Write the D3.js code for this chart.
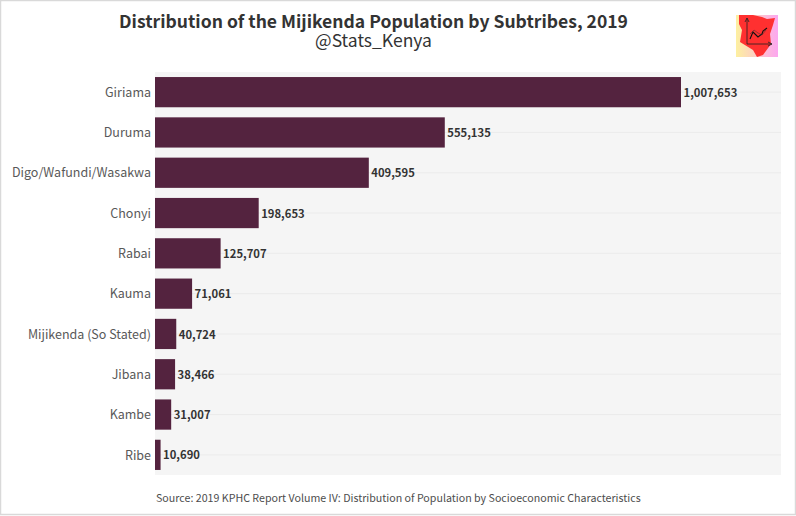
<!DOCTYPE html>
<html>
<head>
<meta charset="utf-8">
<script src="https://cdn.jsdelivr.net/npm/d3@7"></script>
<style>
  html, body { margin: 0; padding: 0; background: #fff; }
  svg { display: block; }
  text { font-family: "Noto Sans CJK SC", "Noto Sans", sans-serif; }
</style>
</head>
<body>
<svg id="chart" width="796" height="516"></svg>
<script>
const subtribes = ['Giriama', 'Duruma', 'Digo/Wafundi/Wasakwa', 'Chonyi', 'Rabai', 'Kauma',
  'Mijikenda (So Stated)', 'Jibana', 'Kambe', 'Ribe'];
const population = [1007653, 555135, 409595, 198653, 125707, 71061, 40724, 38466, 31007, 10690];

const svg = d3.select('#chart');
const w = 796;
const h = 516;
const panel = { left: 155, right: 781, top: 72, bottom: 475 };

// outer border of the picture
svg.append('rect')
  .attr('x', 0.5).attr('y', 0.5)
  .attr('width', w - 1).attr('height', h - 2)
  .attr('fill', '#fff')
  .attr('stroke', '#d9d9d9')
  .attr('stroke-width', 1.5);

svg.append('rect')
  .attr('x', panel.left).attr('y', panel.top)
  .attr('width', panel.right - panel.left).attr('height', panel.bottom - panel.top)
  .attr('fill', '#f5f5f5');

const x = d3.scaleLinear()
  .domain([0, 1007653])
  .range([panel.left, 681]);

const y = d3.scaleBand()
  .domain(subtribes)
  .range([panel.top, panel.bottom])
  .paddingInner(0.25)
  .paddingOuter(0.125);

// horizontal grid lines
svg.selectAll('line.grid')
  .data(subtribes)
  .enter()
  .append('line')
  .attr('class', 'grid')
  .attr('x1', panel.left)
  .attr('x2', panel.right)
  .attr('y1', d => y(d) + y.bandwidth() / 2)
  .attr('y2', d => y(d) + y.bandwidth() / 2)
  .attr('stroke', '#ebebeb')
  .attr('stroke-width', 1);

svg.selectAll('rect.bar')
  .data(subtribes)
  .enter()
  .append('rect')
  .attr('class', 'bar')
  .attr('x', panel.left)
  .attr('y', d => y(d))
  .attr('width', (d, i) => x(population[i]) - panel.left)
  .attr('height', y.bandwidth())
  .attr('fill', '#54233f');

// category labels
const yAxis = d3.axisLeft(y).tickSize(0).tickPadding(4);
const axisG = svg.append('g')
  .attr('transform', `translate(${panel.left},0.7)`)
  .call(yAxis);
axisG.select('.domain').remove();
axisG.selectAll('text')
  .attr('fill', '#595959')
  .style('font-size', '12.5px')
  .style('font-family', '"Noto Sans CJK SC", "Noto Sans", sans-serif');

// value labels
svg.selectAll('text.value')
  .data(subtribes)
  .enter()
  .append('text')
  .attr('class', 'value')
  .attr('x', (d, i) => x(population[i]) + 2.5)
  .attr('y', d => y(d) + y.bandwidth() / 2 + 0.7)
  .attr('dy', '0.35em')
  .attr('fill', '#333')
  .attr('font-size', 11.25)
  .attr('font-weight', 700)
  .text((d, i) => d3.format(',')(population[i]));

svg.append('text')
  .attr('x', 373.5).attr('y', 28)
  .attr('text-anchor', 'middle')
  .attr('fill', '#333')
  .attr('font-size', 17.55)
  .attr('font-weight', 700)
  .text('Distribution of the Mijikenda Population by Subtribes, 2019');

svg.append('text')
  .attr('x', 373.5).attr('y', 47)
  .attr('text-anchor', 'middle')
  .attr('fill', '#333')
  .attr('font-size', 17.5)
  .text('@Stats_Kenya');

svg.append('text')
  .attr('x', 156).attr('y', 502)
  .attr('fill', '#4d4d4d')
  .attr('font-size', 10.66)
  .text('Source: 2019 KPHC Report Volume IV: Distribution of Population by Socioeconomic Characteristics');

// logo top right
const defs = svg.append('defs');
const grad = defs.append('linearGradient').attr('id', 'logoBg');
grad.append('stop').attr('offset', '0%').attr('stop-color', '#fdf0a0');
grad.append('stop').attr('offset', '100%').attr('stop-color', '#fca6f0');
const logo = svg.append('g').attr('transform', 'translate(736,15)');
logo.append('rect').attr('width', 42).attr('height', 42).attr('fill', 'url(#logoBg)');
logo.append('path')
  .attr('d', 'M3,0 L17,0 L26,2 L31,4 L39,3 L37,10 L34,19 L35,29 L27,40 L21,42 L17,35 L4,27 L6,15 L3,9 Z')
  .attr('fill', '#ff3030');
logo.append('path')
  .attr('d', 'M11,3 V29 H36 M9,7 L11,3 L13,7 M32,27 L36,29 L32,31')
  .attr('fill', 'none').attr('stroke', '#222').attr('stroke-width', 0.8);
logo.append('path')
  .attr('d', 'M14,24 L17,17 L22,22 L26,19 L27,16 L31,13')
  .attr('fill', 'none').attr('stroke', '#111').attr('stroke-width', 1.1);
logo.append('path')
  .attr('d', 'M14,19 L18,15 L22,18 L26,20 L30,15')
  .attr('fill', 'none').attr('stroke', '#333').attr('stroke-width', 0.5);
</script>
</body>
</html>
